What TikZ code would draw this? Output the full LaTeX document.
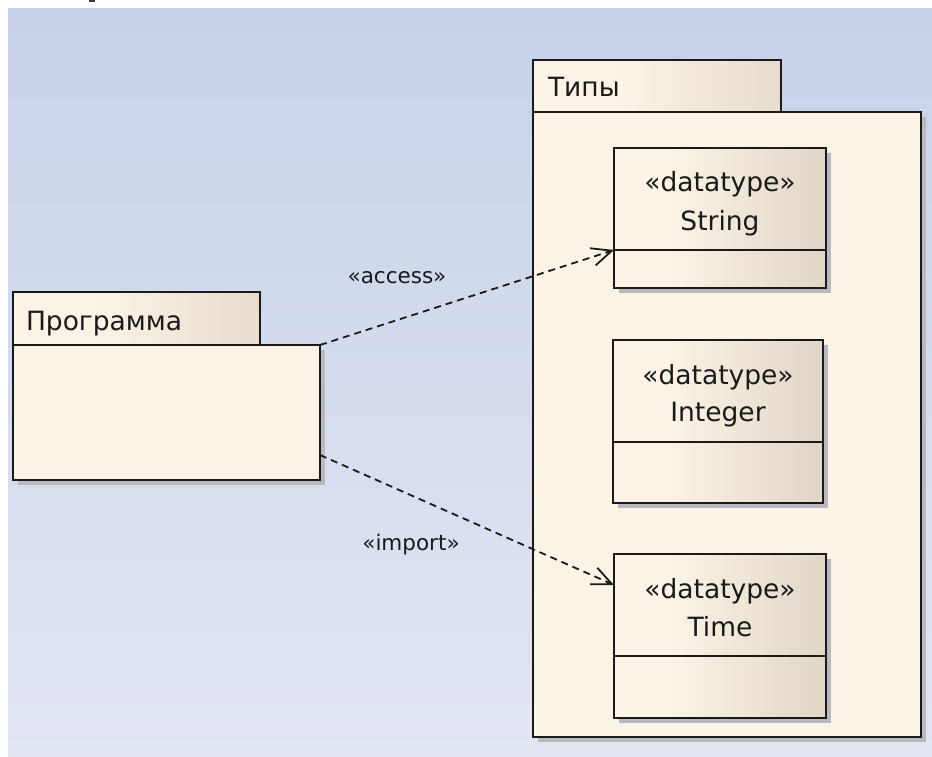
\documentclass[tikz,border=0pt]{standalone}
\usepackage{fontspec}
\setmainfont{DejaVu Sans}
\usetikzlibrary{arrows.meta,shadows}

\definecolor{bgTop}{HTML}{C7D1E9}
\definecolor{bgBot}{HTML}{E2E6F3}
\definecolor{paper}{HTML}{FBF3E5}
\definecolor{beige}{HTML}{E6DDCC}
\definecolor{beigeD}{HTML}{DFD6C6}
\definecolor{shadowgray}{HTML}{B8B8BE}
\definecolor{ink}{HTML}{1A1A1A}

% left-to-right fills: cream that turns beige towards the right edge
\pgfdeclarehorizontalshading{tabshade}{100bp}{color(0bp)=(paper); color(25bp)=(paper); color(42bp)=(paper); color(75bp)=(beige); color(100bp)=(beige)}
\pgfdeclarehorizontalshading{clsshade}{100bp}{color(0bp)=(paper); color(25bp)=(paper); color(38bp)=(paper); color(75bp)=(beigeD); color(100bp)=(beigeD)}

\tikzset{
  box/.style={draw=ink, line width=2.2pt, inner sep=0pt, outer sep=0pt, anchor=north west},
  withshadow/.style={drop shadow={shadow xshift=5pt, shadow yshift=-5pt, fill=shadowgray, opacity=1}},
  pkgbody/.style={box, fill=paper, withshadow},
  pkgtab/.style={box, shade, shading=tabshade},
  clsbox/.style={box, shade, shading=clsshade, withshadow},
  lbl/.style={font=\fontsize{26.5}{30}\selectfont, text=ink, inner sep=0pt, outer sep=0pt},
  dep/.style={draw=ink, line width=1.8pt, dash pattern=on 7pt off 5pt,
              -{Straight Barb[length=20pt,width=18pt,line width=1.8pt]}},
  deplbl/.style={font=\fontsize{21.5}{24}\selectfont, text=ink, inner sep=0pt, anchor=base},
}

\begin{document}
\begin{tikzpicture}[x=1pt, y=-1pt]
\useasboundingbox (0,0) rectangle (932,757);

% canvas
\fill[white] (0,0) rectangle (932,757);
\shade[top color=bgTop, bottom color=bgBot] (8,9) rectangle (932,757);
\fill[ink!85] (89,0) rectangle (95,2.5);

% package "Программа"
\node[pkgtab, minimum width=247pt, minimum height=53pt] (progtab) at (13,292) {};
\node[pkgbody, minimum width=307pt, minimum height=135pt] (progbody) at (13,345) {};
\node[lbl, anchor=base west] (progname) at (26,330) {Программа};

% package "Типы"
\node[pkgtab, minimum width=248pt, minimum height=52pt] (typtab) at (533,60) {};
\node[pkgbody, minimum width=388pt, minimum height=625pt] (typbody) at (533,112) {};
\node[lbl, anchor=base west] (typname) at (548,97) {Типы};

% datatype String
\node[clsbox, minimum width=212pt, minimum height=102pt] (strTop) at (614,148) {};
\node[clsbox, minimum width=212pt, minimum height=38pt] (strBot) at (614,250) {};
\node[lbl, anchor=base] (strSt) at ([yshift=-44pt]strTop.north) {«datatype»};
\node[lbl, anchor=base] (strNm) at ([yshift=-82pt]strTop.north) {String};

% datatype Integer
\node[clsbox, minimum width=210pt, minimum height=102pt] (intTop) at (613,340) {};
\node[clsbox, minimum width=210pt, minimum height=61pt] (intBot) at (613,442) {};
\node[lbl, anchor=base] (intSt) at ([yshift=-44pt]intTop.north) {«datatype»};
\node[lbl, anchor=base] (intNm) at ([yshift=-81pt]intTop.north) {Integer};

% datatype Time
\node[clsbox, minimum width=212pt, minimum height=102pt] (timTop) at (614,554) {};
\node[clsbox, minimum width=212pt, minimum height=62pt] (timBot) at (614,656) {};
\node[lbl, anchor=base] (timSt) at ([yshift=-44pt]timTop.north) {«datatype»};
\node[lbl, anchor=base] (timNm) at ([yshift=-82pt]timTop.north) {Time};

% dependencies
\draw[dep] (progbody.north east) -- (strTop.south west);
\draw[dep] ([yshift=25pt]progbody.south east) -- ([yshift=-31pt]timTop.north west);
\node[deplbl] (acclbl) at (397,283) {«access»};
\node[deplbl] (implbl) at (411,550) {«import»};
\end{tikzpicture}
\end{document}
